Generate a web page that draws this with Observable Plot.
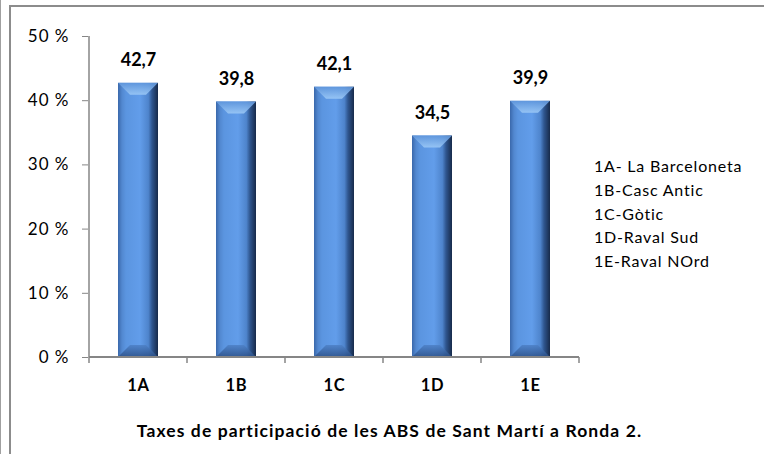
<!DOCTYPE html>
<html>
<head>
<meta charset="utf-8">
<script src="https://cdn.jsdelivr.net/npm/d3@7"></script>
<script src="https://cdn.jsdelivr.net/npm/@observablehq/plot@0.6"></script>
<style>
  html, body { margin: 0; padding: 0; background: #fff; }
  #wrap { position: relative; width: 764px; height: 454px; overflow: hidden; font-family: Lato, "Open Sans", sans-serif; }
  #chart svg { display: block; }
  #chart g[aria-label="y-axis tick label"] text { letter-spacing: 1px; }
  #chart g[aria-label="x-axis tick label"] text { letter-spacing: 0.8px; }
  .frame { position: absolute; left: 9px; top: 5px; width: 900px; height: 700px; border: 2px solid #8c8c8c; box-sizing: border-box; }
  .edge { position: absolute; left: 0; top: 0; width: 1px; height: 454px; background: #a0a0a0; }
  #legend { position: absolute; left: 594px; top: 154px; font-size: 16px; line-height: 23.75px; letter-spacing: 0.8px; color: #000; white-space: nowrap; }
  #title { position: absolute; left: 7.5px; width: 764px; top: 421px; text-align: center; font-size: 17.5px; line-height: 20px; letter-spacing: 1.1px; font-weight: bold; color: #000; white-space: nowrap; }
</style>
</head>
<body>
<div id="wrap">
  <div id="chart"></div>
  <div class="edge"></div>
  <div class="frame"></div>
  <div id="legend"></div>
  <div id="title"></div>
</div>
<script>
const categories = ["1A", "1B", "1C", "1D", "1E"];
const values = [42.7, 39.8, 42.1, 34.5, 39.9];
const valueLabels = ["42,7", "39,8", "42,1", "34,5", "39,9"];
const yTicks = [0, 10, 20, 30, 40, 50];
const legendItems = ["1A- La Barceloneta", "1B-Casc Antic", "1C-Gòtic", "1D-Raval Sud", "1E-Raval NOrd"];
const titleText = "Taxes de participació de les ABS de Sant Martí a Ronda 2.";

const data = categories.map((c, i) => ({cat: c, value: values[i], label: valueLabels[i]}));
const W = 764, H = 454, mL = 88, mR = 185, mT = 36, mB = 97;
const axisColor = "#868686";
const NS = "http://www.w3.org/2000/svg";
function el(tag, attrs) {
  const e = document.createElementNS(NS, tag);
  for (const k in attrs) e.setAttribute(k, attrs[k]);
  return e;
}

function shadeBars(index, scales, vals, dims, ctx, next) {
  const g = next(index, scales, vals, dims, ctx);
  const defs = el("defs", {});
  const hg = el("linearGradient", {id: "barH", x1: 0, x2: 1, y1: 0, y2: 0});
  [["0", "#3a68ab"], ["0.1", "#5288d0"], ["0.2", "#5b95e0"], ["0.55", "#629dea"], ["0.76", "#4e84cc"], ["0.85", "#2f568f"], ["1", "#172a4a"]]
    .forEach(([o, c]) => hg.appendChild(el("stop", {offset: o, "stop-color": c})));
  const tg = el("linearGradient", {id: "barTop", x1: 0, x2: 0, y1: 0, y2: 1});
  [["0", "#5f96dc"], ["1", "#9bc8f6"]].forEach(([o, c]) => tg.appendChild(el("stop", {offset: o, "stop-color": c})));
  const bg = el("linearGradient", {id: "barBot", x1: 0, x2: 0, y1: 0, y2: 1});
  [["0", "#4d80c6"], ["1", "#2b4f86"]].forEach(([o, c]) => bg.appendChild(el("stop", {offset: o, "stop-color": c})));
  defs.append(hg, tg, bg);
  g.insertBefore(defs, g.firstChild);
  for (const r of Array.from(g.querySelectorAll("rect"))) {
    const x = +r.getAttribute("x"), y = +r.getAttribute("y"), w = +r.getAttribute("width"), h = +r.getAttribute("height");
    r.setAttribute("fill", "url(#barH)");
    const b = 12;
    const top = el("polygon", {points: `${x},${y} ${x + w},${y} ${x + w - b},${y + b} ${x + b},${y + b}`, fill: "url(#barTop)", "fill-opacity": 0.9});
    const bot = el("polygon", {points: `${x + b},${y + h - b} ${x + w - b},${y + h - b} ${x + w},${y + h} ${x},${y + h}`, fill: "url(#barBot)", "fill-opacity": 0.85});
    r.parentNode.append(top, bot);
  }
  return g;
}

function axisLines(index, scales, vals, dims) {
  const g = el("g", {stroke: axisColor, fill: "none"});
  const xs = categories.map(c => scales.x(c));
  const step = xs[1] - xs[0];
  const y0 = scales.y(0), y1 = scales.y(yTicks[yTicks.length - 1]);
  const xLeft = xs[0], xRight = xs[xs.length - 1] + step;
  g.appendChild(el("line", {x1: xLeft, x2: xLeft, y1: y1, y2: y0, "stroke-width": 1.5}));
  g.appendChild(el("line", {x1: xLeft, x2: xRight, y1: y0, y2: y0, "stroke-width": 2}));
  [...xs, xRight].forEach(x => g.appendChild(el("line", {x1: x, x2: x, y1: y0, y2: y0 + 6, "stroke-width": 1.5})));
  return g;
}

const chart = Plot.plot({
  width: W, height: H,
  marginLeft: mL, marginRight: mR, marginTop: mT, marginBottom: mB,
  style: {background: "transparent", fontFamily: "Lato, 'Open Sans', sans-serif", fontSize: "16px", color: "#000"},
  x: {domain: categories, paddingInner: 0, paddingOuter: 0, label: null},
  y: {domain: [0, 50], label: null},
  marks: [
    Plot.barY(data, {x: "cat", y: "value", insetLeft: 29, insetRight: 29, render: shadeBars}),
    axisLines,
    Plot.axisY({ticks: yTicks, tickFormat: d => `${d} %`, tickSize: 6, tickPadding: 13, stroke: axisColor, fill: "#000", fontSize: 17, label: null}),
    Plot.axisX({tickSize: 0, tickPadding: 22, fill: "#000", fontSize: 16.5, fontWeight: "bold", label: null}),
    Plot.text(data, {x: "cat", y: "value", text: "label", lineAnchor: "bottom", dy: -17, fontSize: 18, fontWeight: "bold", fill: "#000"})
  ]
});
document.getElementById("chart").appendChild(chart);
document.getElementById("legend").innerHTML = legendItems.map(t => `<div>${t}</div>`).join("");
document.getElementById("title").textContent = titleText;
</script>
</body>
</html>
